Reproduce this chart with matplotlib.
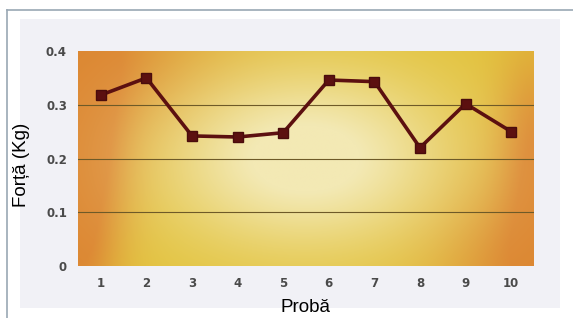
import numpy as np
import matplotlib
matplotlib.use("Agg")
import matplotlib.pyplot as plt
from matplotlib.colors import to_rgb
from matplotlib.lines import Line2D
from matplotlib.patches import Rectangle

# data
trials = [1, 2, 3, 4, 5, 6, 7, 8, 9, 10]
force = [0.318, 0.350, 0.242, 0.240, 0.248, 0.346, 0.343, 0.220, 0.302, 0.250]
yticks = [0, 0.1, 0.2, 0.3, 0.4]
ytick_labels = ["0", "0.1", "0.2", "0.3", "0.4"]

W, H = 573, 318
fig = plt.figure(figsize=(W / 100, H / 100), dpi=100)
fig.patch.set_facecolor("white")

# outer frame lines and light inner panel
fig.add_artist(Line2D([7 / W, 1], [1 - 10 / H, 1 - 10 / H], color="#9aa8b4", lw=1.2))
fig.add_artist(Line2D([7 / W, 7 / W], [0, 1 - 10 / H], color="#9aa8b4", lw=1.2))
fig.add_artist(Rectangle((20 / W, 1 - 308 / H), 540 / W, 289 / H,
                         facecolor="#f1f1f6", edgecolor="none", zorder=0))

ax = fig.add_axes([78 / W, 1 - 266 / H, 456 / W, 215 / H])


def blob(x, y, cx, cy, sx, sy):
    return np.exp(-((x - cx) / sx) ** 2 - ((y - cy) / sy) ** 2)


# warm textured background: yellow base, pale centre, orange corners
# (yy = 1 is the top row of the image)
yy, xx = np.mgrid[1:0:200j, 0:1:400j]
img = np.ones((200, 400, 3)) * np.array(to_rgb("#e2c23a"))
w_or = np.clip(blob(xx, yy, 0.0, 1.0, 0.28, 0.4) + blob(xx, yy, 0.02, 0.45, 0.1, 0.4)
               + 0.7 * blob(xx, yy, 0.0, 0.0, 0.08, 0.3)
               + blob(xx, yy, 1.0, 0.0, 0.2, 0.45) + 0.8 * blob(xx, yy, 1.0, 0.6, 0.08, 0.4),
               0, 1)
img = img * (1 - w_or[..., None]) + np.array(to_rgb("#dc8630")) * w_or[..., None]
w_cr = np.clip(1.15 * blob(xx, yy, 0.5, 0.5, 0.32, 0.42), 0, 1)
img = img * (1 - w_cr[..., None]) + np.array(to_rgb("#f3e9b4")) * w_cr[..., None]
ax.imshow(img, extent=[0.5, 10.5, 0, 0.4], aspect="auto", zorder=0)

for v in yticks[1:4]:
    ax.axhline(v, color="#6e5a28", lw=0.8, zorder=1)

ax.plot(trials, force, "-s", color="#5c1010", lw=2.6, ms=7,
        markerfacecolor="#5c1010", markeredgecolor="#4a0c0c", zorder=3)

ax.set_xlim(0.5, 10.5)
ax.set_ylim(0, 0.4)
ax.set_xticks(trials)
ax.set_xticklabels([str(t) for t in trials])
ax.set_yticks(yticks)
ax.set_yticklabels(ytick_labels)
ax.tick_params(length=0, labelsize=8.5, labelcolor="#4a4a4a", pad=8)
for lab in ax.get_xticklabels() + ax.get_yticklabels():
    lab.set_fontweight("bold")
for s in ax.spines.values():
    s.set_visible(False)

fig.text(306 / W, 1 - 308 / H, "Probă", ha="center", va="center",
         fontsize=13.5, family="Liberation Sans", color="black")
fig.text(22 / W, 1 - 165 / H, "Forță (Kg)", ha="center", va="center",
         rotation=90, fontsize=13.5, family="Liberation Sans", color="black")

fig.savefig("out.png", dpi=100)
